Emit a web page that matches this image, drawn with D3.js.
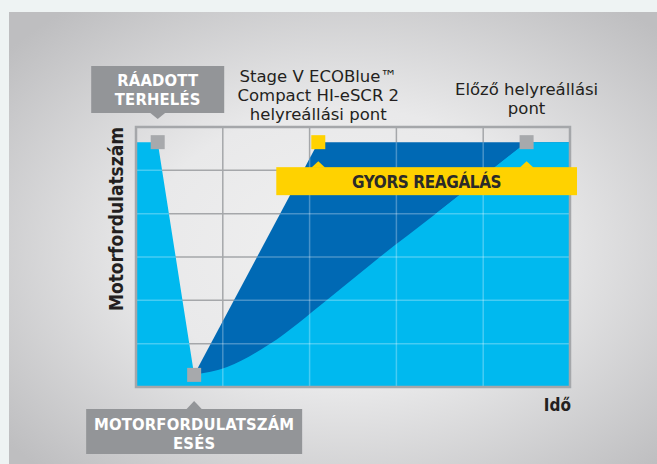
<!DOCTYPE html>
<html>
<head>
    <meta charset="utf-8">
    <title>Motorfordulatszám helyreállás</title>
    <script src="https://cdnjs.cloudflare.com/ajax/libs/d3/7.8.5/d3.min.js"></script>
    <style>
        body { margin: 0; background: #eef3f3; }
        .grid line { stroke: #a5a7aa; stroke-width: 1.5; }
        .grid-over line { stroke: #ffffff; stroke-opacity: 0.28; stroke-width: 1.5; }
        .frame { fill: none; stroke: #a5a7aa; stroke-width: 2.5; }
        .note { font-family: "DejaVu Sans", sans-serif; font-size: 16.5px; fill: #231f20; }
        .tag { font-family: "DejaVu Sans Condensed", "DejaVu Sans", sans-serif; font-weight: bold; font-size: 16.5px; letter-spacing: 0.15px; fill: #ffffff; }
        .axis-title { font-family: "DejaVu Sans Condensed", "DejaVu Sans", sans-serif; font-weight: bold; fill: #231f20; }
    </style>
</head>
<body>
<script>
    // time (x) and engine speed (y) in arbitrary chart units
    const timeTicks = [0, 1, 2, 3, 4, 5];
    const rpmTicks = [0, 1, 2, 3, 4, 5, 6];
    const ratedRpm = 5.65;

    // speed drop after the load step
    const speedDrop = [[0, 5.65], [0.25, 5.65], [0.67, 0.28]];
    // Stage V ECOBlue recovery (fast)
    const fastRecovery = [[0.67, 0.28], [2.1, 5.65], [5, 5.65]];
    // previous recovery curve (reaches rated speed at t = 4.5, flat afterwards)
    const prevRecovery = [[0.67, 0.28], [1.05, 0.46], [1.54, 0.99], [2.2, 2.01], [2.81, 3.0], [3.45, 3.99], [4.5, 5.65]];
    const prevTail = [[3.45, 3.99], [4.5, 5.65], [5, 5.65]];

    const markers = [
        { t: 0.25, rpm: 5.65, color: '#a7a9ac' },
        { t: 0.67, rpm: 0.28, color: '#a7a9ac' },
        { t: 2.1, rpm: 5.65, color: '#ffd200' },
        { t: 4.5, rpm: 5.65, color: '#a7a9ac' }
    ];

    const loadLabel = ['RÁADOTT', 'TERHELÉS'];
    const dropLabel = ['MOTORFORDULATSZÁM', 'ESÉS'];
    const fastLabel = ['Stage V ECOBlue™', 'Compact HI-eSCR 2', 'helyreállási pont'];
    const prevLabel = ['Előző helyreállási', 'pont'];
    const bandLabel = 'GYORS REAGÁLÁS';
    const yTitle = 'Motorfordulatszám';
    const xTitle = 'Idő';

    const W = 657, H = 464;
    const svg = d3.select('body').append('svg')
        .attr('width', W)
        .attr('height', H);

    const x = d3.scaleLinear().domain([0, 5]).range([136, 570]);
    const y = d3.scaleLinear().domain([0, 6]).range([387, 127]);

    // background panel
    const defs = svg.append('defs');
    const grad = defs.append('radialGradient')
        .attr('id', 'panelGrad')
        .attr('cx', '52%').attr('cy', '52%').attr('r', '68%');
    grad.append('stop').attr('offset', '0%').attr('stop-color', '#f0f0f0');
    grad.append('stop').attr('offset', '45%').attr('stop-color', '#e9e9ea');
    grad.append('stop').attr('offset', '100%').attr('stop-color', '#bebec0');

    svg.append('rect')
        .attr('x', 9).attr('y', 12)
        .attr('width', W - 9).attr('height', H - 12)
        .attr('fill', 'url(#panelGrad)');

    const line = d3.line().x(d => x(d[0])).y(d => y(d[1]));

    // grid under the areas
    const grid = svg.append('g').attr('class', 'grid');
    grid.selectAll('.v').data(timeTicks.slice(1, -1)).enter().append('line')
        .attr('x1', d => x(d)).attr('x2', d => x(d))
        .attr('y1', y(6)).attr('y2', y(0));
    grid.selectAll('.h').data(rpmTicks.slice(1, -1)).enter().append('line')
        .attr('x1', x(0)).attr('x2', x(5))
        .attr('y1', d => y(d)).attr('y2', d => y(d));

    // areas
    const darkPts = fastRecovery.concat([[5, 0], [0.67, 0]]);
    const leftPts = speedDrop.concat([[0.8, 0], [0, 0]]);
    const tailPts = prevTail.concat([[5, 0], [3.45, 0]]);
    const prevArea = d3.area()
        .x(d => x(d[0]))
        .y0(y(0))
        .y1(d => y(d[1]))
        .curve(d3.curveMonotoneX);

    const shapes = [
        { d: line(darkPts) + 'Z', fill: '#0069b4' },
        { d: prevArea(prevRecovery), fill: '#00b9ef' },
        { d: line(tailPts) + 'Z', fill: '#00b9ef' },
        { d: line(leftPts) + 'Z', fill: '#00b9ef' }
    ];

    svg.selectAll('.area').data(shapes).enter().append('path')
        .attr('class', 'area')
        .attr('d', d => d.d)
        .attr('fill', d => d.fill);

    // lighter grid lines on top of the blue areas
    const clip = defs.append('clipPath').attr('id', 'areaClip');
    clip.selectAll('path').data(shapes).enter().append('path').attr('d', d => d.d);

    const gridOver = svg.append('g').attr('class', 'grid-over').attr('clip-path', 'url(#areaClip)');
    gridOver.selectAll('.v').data(timeTicks.slice(1, -1)).enter().append('line')
        .attr('x1', d => x(d)).attr('x2', d => x(d))
        .attr('y1', y(6)).attr('y2', y(0));
    gridOver.selectAll('.h').data(rpmTicks.slice(1, -1)).enter().append('line')
        .attr('x1', x(0)).attr('x2', x(5))
        .attr('y1', d => y(d)).attr('y2', d => y(d));

    // frame
    svg.append('rect')
        .attr('class', 'frame')
        .attr('x', x(0)).attr('y', y(6))
        .attr('width', x(5) - x(0)).attr('height', y(0) - y(6));

    // yellow band with notches under the recovery markers
    const bandTop = y(ratedRpm) + 25, bandH = 28;
    const bandL = x(2.1) - 42, bandR = x(5) + 7;
    const band = svg.append('g');
    band.append('rect')
        .attr('x', bandL).attr('y', bandTop)
        .attr('width', bandR - bandL).attr('height', bandH)
        .attr('fill', '#ffd200');
    band.selectAll('path').data([markers[2], markers[3]]).enter().append('path')
        .attr('d', d => `M${x(d.t) - 7},${bandTop + 0.5}L${x(d.t)},${bandTop - 6}L${x(d.t) + 7},${bandTop + 0.5}Z`)
        .attr('fill', '#ffd200');
    band.append('text')
        .attr('class', 'axis-title')
        .attr('x', (bandL + bandR) / 2)
        .attr('y', bandTop + 21)
        .attr('text-anchor', 'middle')
        .style('font-size', '17px')
        .style('letter-spacing', '-0.4px')
        .style('fill', '#2b2a29')
        .text(bandLabel);

    // markers
    svg.selectAll('.marker').data(markers).enter().append('rect')
        .attr('class', 'marker')
        .attr('x', d => x(d.t) - 7)
        .attr('y', d => y(d.rpm) - 7)
        .attr('width', 14).attr('height', 14)
        .attr('fill', d => d.color);

    // grey callout boxes
    function callout(cx, top, w, h, pointDown, lines, baseline) {
        const g = svg.append('g');
        g.append('rect')
            .attr('x', cx - w / 2).attr('y', top)
            .attr('width', w).attr('height', h)
            .attr('fill', '#939598');
        const tipY = pointDown ? top + h + 6 : top - 8;
        const baseY = pointDown ? top + h - 0.5 : top + 0.5;
        g.append('path')
            .attr('d', `M${cx - 8},${baseY}L${cx},${tipY}L${cx + 8},${baseY}Z`)
            .attr('fill', '#939598');
        g.selectAll('text').data(lines).enter().append('text')
            .attr('class', 'tag')
            .attr('x', cx)
            .attr('y', (d, i) => baseline + i * 19.2)
            .attr('text-anchor', 'middle')
            .text(d => d);
    }
    callout(x(markers[0].t), 66, 133, 47, true, loadLabel, 86);
    callout(x(markers[1].t), 409, 216, 45, false, dropLabel, 429.5);

    // notes above the plot
    svg.append('g').selectAll('text').data(fastLabel).enter().append('text')
        .attr('class', 'note')
        .attr('x', x(markers[2].t))
        .attr('y', (d, i) => 82 + i * 19)
        .attr('text-anchor', 'middle')
        .text(d => d);
    svg.append('g').selectAll('text').data(prevLabel).enter().append('text')
        .attr('class', 'note')
        .attr('x', x(markers[3].t))
        .attr('y', (d, i) => 95 + i * 19)
        .attr('text-anchor', 'middle')
        .text(d => d);

    // axis titles
    svg.append('text')
        .attr('class', 'axis-title')
        .attr('transform', `translate(123,${(y(6) + y(0)) / 2 - 38}) rotate(-90)`)
        .attr('text-anchor', 'middle')
        .style('font-size', '19px')
        .text(yTitle);
    svg.append('text')
        .attr('class', 'axis-title')
        .attr('x', x(5) + 1)
        .attr('y', 411)
        .attr('text-anchor', 'end')
        .style('font-size', '17px')
        .text(xTitle);
</script>
</body>
</html>
